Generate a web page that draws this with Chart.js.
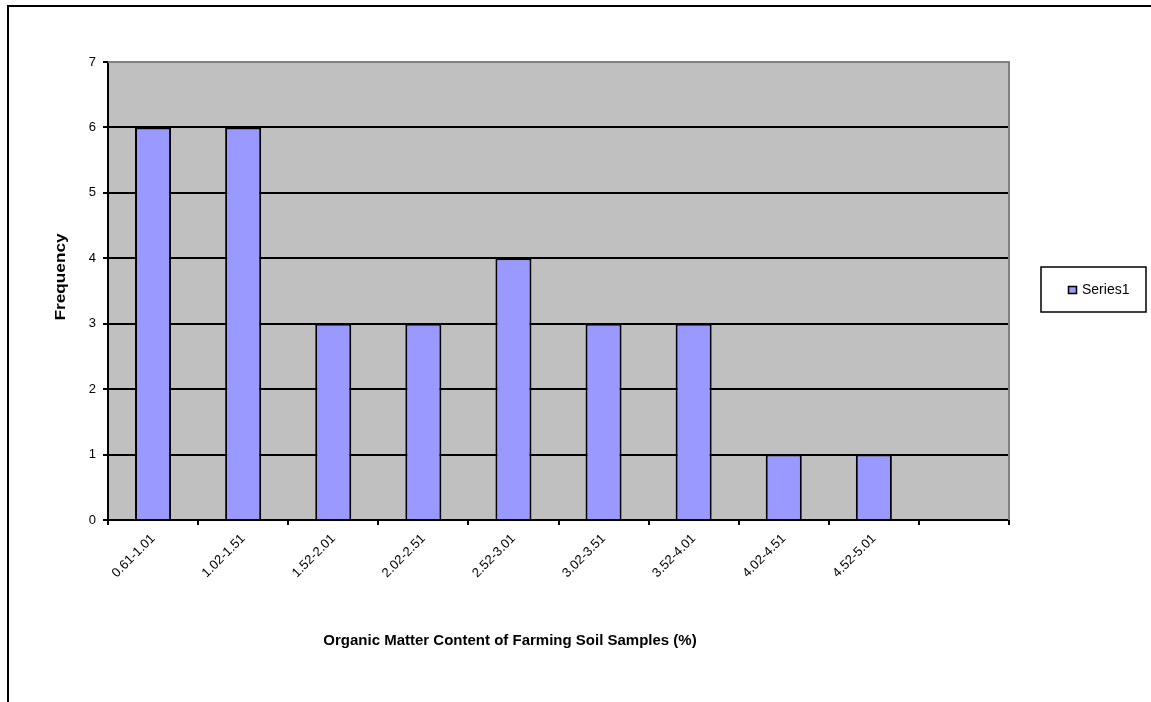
<!DOCTYPE html>
<html>
<head>
<meta charset="utf-8">
<script src="https://cdn.jsdelivr.net/npm/chart.js@4"></script>
<style>
html,body{margin:0;padding:0;background:#fff;overflow:hidden;}
#wrap{position:relative;width:1151px;height:702px;}
#frame{position:absolute;left:7px;top:5px;width:1200px;height:800px;border:2px solid #000;pointer-events:none;}
canvas{position:absolute;left:0;top:0;}
</style>
</head>
<body>
<div id="wrap">
<canvas id="c" width="1151" height="702"></canvas>
<div id="frame"></div>
</div>
<script>
const categories = ["0.61-1.01","1.02-1.51","1.52-2.01","2.02-2.51","2.52-3.01","3.02-3.51","3.52-4.01","4.02-4.51","4.52-5.01",""];
const frequencies = [6,6,3,3,4,3,3,1,1,null];
const seriesName = "Series1";
const yTicks = [0,1,2,3,4,5,6,7];
const xTitle = "Organic Matter Content of Farming Soil Samples (%)";
const yTitle = "Frequency";

const FONT = "'Liberation Sans', Arial, sans-serif";

const decor = {
  id: 'decor',
  beforeDraw(chart) {
    const {ctx, chartArea: a} = chart;
    ctx.save();
    ctx.fillStyle = '#C0C0C0';
    ctx.fillRect(a.left, a.top, a.right - a.left, a.bottom - a.top);
    ctx.restore();
  },
  afterDraw(chart) {
    const {ctx, chartArea: a} = chart;
    ctx.save();
    ctx.strokeStyle = '#808080';
    ctx.lineWidth = 2;
    ctx.beginPath();
    ctx.moveTo(a.left, a.top);
    ctx.lineTo(a.right, a.top);
    ctx.lineTo(a.right, a.bottom);
    ctx.stroke();
    ctx.fillStyle = '#000';
    ctx.textAlign = 'center';
    ctx.textBaseline = 'middle';
    ctx.font = 'bold 15px ' + FONT;
    ctx.fillText(xTitle, 510, 641);
    ctx.translate(61, 277);
    ctx.rotate(-Math.PI / 2);
    ctx.scale(1.15, 1);
    ctx.fillText(yTitle, 0, 0);
    ctx.setTransform(1,0,0,1,0,0);
    const lx = 1041, ly = 267, lw = 105, lh = 45;
    ctx.fillStyle = '#fff';
    ctx.fillRect(lx, ly, lw, lh);
    ctx.strokeStyle = '#000';
    ctx.lineWidth = 1.5;
    ctx.strokeRect(lx, ly, lw, lh);
    const ds = chart.data.datasets[0];
    ctx.fillStyle = ds.backgroundColor;
    ctx.fillRect(1068.5, 286.5, 8, 7);
    ctx.lineWidth = 1.5;
    ctx.strokeStyle = '#000';
    ctx.strokeRect(1068.5, 286.5, 8, 7);
    ctx.fillStyle = '#000';
    ctx.font = '14px ' + FONT;
    ctx.textAlign = 'left';
    ctx.fillText(ds.label, 1082, 290);
    ctx.restore();
  }
};

new Chart(document.getElementById('c'), {
  type: 'bar',
  data: {
    labels: categories,
    datasets: [{
      label: seriesName,
      data: frequencies,
      backgroundColor: '#9999FF',
      borderColor: '#000',
      borderWidth: 2,
      barPercentage: 0.4,
      categoryPercentage: 1.0
    }]
  },
  options: {
    responsive: false,
    animation: false,
    devicePixelRatio: 1,
    layout: { padding: { top: 62, right: 142, left: 0, bottom: 0 } },
    plugins: { legend: { display: false }, tooltip: { enabled: false } },
    scales: {
      x: {
        offset: true,
        afterFit(s) { s.height = 182; },
        grid: { offset: true, drawOnChartArea: false, drawTicks: true, tickLength: 5, color: '#000', lineWidth: 2 },
        border: { color: '#000', width: 2 },
        ticks: { color: '#000', font: { family: FONT, size: 13 }, maxRotation: 45, minRotation: 45, padding: 6, autoSkip: false }
      },
      y: {
        min: 0, max: 7,
        afterFit(s) { s.width = 108; },
        afterBuildTicks(s) { s.ticks = yTicks.map(v => ({ value: v })); },
        grid: {
          color: c => c.tick && c.tick.value === 7 ? 'rgba(0,0,0,0)' : '#000',
          lineWidth: 2,
          tickLength: 5,
          tickColor: '#000'
        },
        border: { color: '#000', width: 2 },
        ticks: { color: '#000', font: { family: FONT, size: 13 }, padding: 7, stepSize: 1 }
      }
    }
  },
  plugins: [decor]
});
</script>
</body>
</html>
